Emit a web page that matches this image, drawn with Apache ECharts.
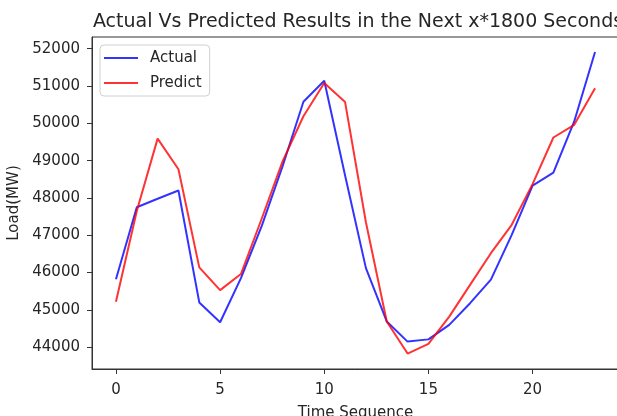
<!DOCTYPE html>
<html>
<head>
<meta charset="utf-8">
<script src="https://cdn.jsdelivr.net/npm/echarts@6/dist/echarts.min.js"></script>
<style>
  html, body { margin: 0; padding: 0; background: #fff; }
  #chartPanel { width: 617px; height: 416px; }
</style>
</head>
<body>
<div id="chartPanel"></div>
<script>
// values
var steps = [0, 1, 2, 3, 4, 5, 6, 7, 8, 9, 10, 11, 12, 13, 14, 15, 16, 17, 18, 19, 20, 21, 22, 23];
var actual = [45820, 47750, 47980, 48200, 45200, 44670, 45850, 47250, 48850, 50580, 51140, 48600,
              46120, 44690, 44150, 44210, 44600, 45180, 45810, 47010, 48330, 48680, 50050, 51910];
var predict = [45220, 47650, 49590, 48770, 46140, 45530, 45960, 47450, 48980, 50190, 51080, 50570,
               47350, 44690, 43830, 44090, 44820, 45670, 46520, 47280, 48370, 49620, 49960, 50940];
var xTicks = [0, 5, 10, 15, 20];
var yTicks = [44000, 45000, 46000, 47000, 48000, 49000, 50000, 51000, 52000];

var font = 'DejaVu Sans';
var txt = '#262626';

function pairs(vals) {
  var out = [];
  steps.forEach(function (s, i) { out.push([s, vals[i]]); });
  return out;
}

var chartPanel = echarts.init(document.getElementById('chartPanel'), null, { renderer: 'canvas' });

var option = {
  animation: false,
  backgroundColor: '#fff',
  title: {
    text: 'Actual Vs Predicted Results in the Next x*1800 Seconds',
    left: 353,
    top: 8,
    textAlign: 'center',
    textStyle: { fontFamily: font, fontSize: 19, fontWeight: 'normal', color: txt }
  },
  legend: {
    orient: 'vertical',
    left: 100,
    top: 45,
    padding: [4, 8, 4, 4],
    itemGap: 7,
    itemWidth: 34,
    itemHeight: 2,
    icon: 'rect',
    borderColor: '#d0d0d0',
    borderWidth: 1,
    borderRadius: 4,
    backgroundColor: 'rgba(255,255,255,0.8)',
    textStyle: { fontFamily: font, fontSize: 15, color: txt, lineHeight: 18, padding: [0, 0, 0, 7] },
    data: ['Actual', 'Predict']
  },
  grid: {
    left: 92,
    top: 37,
    width: 527,
    height: 332,
    show: true,
    borderColor: '#333',
    borderWidth: 1,
    containLabel: false,
    outerBoundsMode: 'none'
  },
  xAxis: {
    type: 'value',
    min: -1.15,
    max: 24.15,
    name: 'Time Sequence',
    nameLocation: 'middle',
    nameGap: 37,
    nameTextStyle: { fontFamily: font, fontSize: 15, color: txt },
    axisLine: { show: true, onZero: false, lineStyle: { color: '#333', width: 1 } },
    axisTick: { show: true, length: 5, customValues: xTicks, lineStyle: { color: '#333' } },
    axisLabel: { customValues: xTicks, margin: 14, fontFamily: font, fontSize: 15, color: txt },
    splitLine: { show: false }
  },
  yAxis: {
    type: 'value',
    min: 43416,
    max: 52314,
    name: 'Load(MW)',
    nameLocation: 'middle',
    nameGap: 59,
    nameTextStyle: { fontFamily: font, fontSize: 15, color: txt },
    axisLine: { show: true, onZero: false, lineStyle: { color: '#333', width: 1 } },
    axisTick: { show: true, length: 5, customValues: yTicks, lineStyle: { color: '#333' } },
    axisLabel: {
      customValues: yTicks, margin: 12, fontFamily: font, fontSize: 15, color: txt,
      formatter: function (v) { return String(Math.round(v)); }
    },
    splitLine: { show: false }
  },
  series: [
    {
      name: 'Actual',
      type: 'line',
      symbol: 'none',
      lineStyle: { color: '#0000ff', width: 2, opacity: 0.8 },
      itemStyle: { color: 'rgba(0,0,255,0.8)' },
      data: pairs(actual)
    },
    {
      name: 'Predict',
      type: 'line',
      symbol: 'none',
      lineStyle: { color: '#ff0000', width: 2, opacity: 0.8 },
      itemStyle: { color: 'rgba(255,0,0,0.8)' },
      data: pairs(predict)
    }
  ]
};
chartPanel.setOption(option);
</script>
</body>
</html>
